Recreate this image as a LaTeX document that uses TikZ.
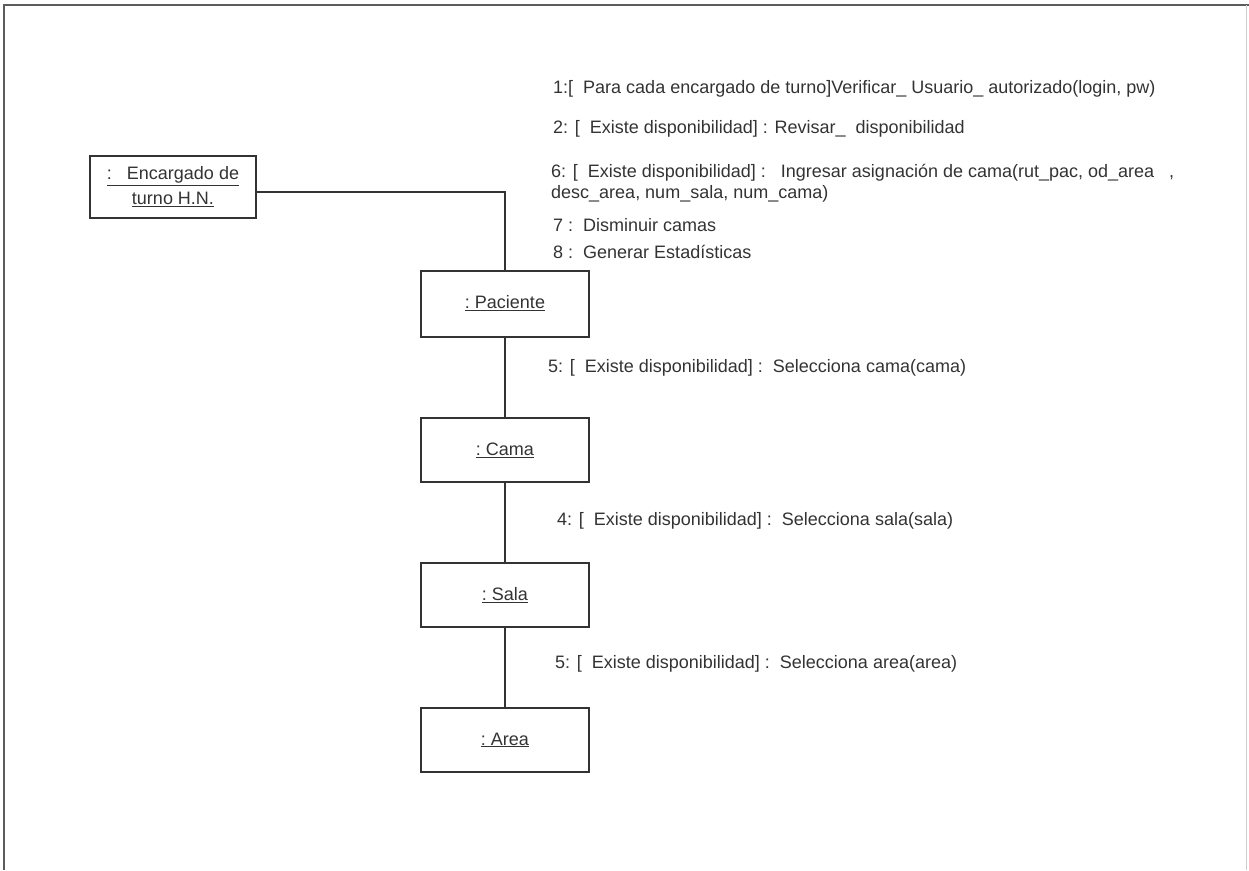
\documentclass[tikz,border=0pt]{standalone}
\usepackage{fontspec}
\setmainfont{Liberation Sans}
\definecolor{ink}{HTML}{333333}
\begin{document}
\begin{tikzpicture}[x=1pt,y=-1pt,
  obj/.style={draw=ink,line width=2pt,minimum width=168pt,minimum height=66pt,inner sep=0pt,align=center,font=\fontsize{18}{22}\selectfont,text=ink},
  msg/.style={anchor=base west,inner sep=0pt,font=\fontsize{18}{21}\selectfont,text=ink},
  link/.style={draw=ink,line width=2pt}]
\useasboundingbox (0,0) rectangle (1249,870);
% page frame
\draw[ink!80,line width=1.6pt] (4,870) -- (4,5) -- (1249,5);
\draw[black!20,line width=0.8pt] (1246,5) -- (1246,870);

% objects
\node[obj,minimum width=166pt,minimum height=62pt] (enc) at (173,187) {\underline{:\ \ \ Encargado de}\\[3pt]\underline{turno H.N.}};
\node[obj] (pac) at (505,303.5) {\underline{:\ Paciente}};
\node[obj,minimum height=64pt] (cam) at (505,450) {\underline{:\ Cama}};
\node[obj,minimum height=64pt] (sal) at (505,595) {\underline{:\ Sala}};
\node[obj,minimum height=64pt] (are) at (505,740) {\underline{:\ Area}};

% links
\coordinate (bend) at (505,192);
\draw[link] (enc.east |- bend) -- (bend) -- (pac.north);
\draw[link] (pac) -- (cam);
\draw[link] (cam) -- (sal);
\draw[link] (sal) -- (are);

% messages
\node[msg] (m1) at (553,93) {1:[\ \ Para cada encargado de turno]Verificar\_ Usuario\_ autorizado(login, pw)};
\node[msg] (m2) at (553,133) {2: [\ \ Existe disponibilidad] : Revisar\_\ \ disponibilidad};
\node[msg] (m6) at (551,177) {6: [\ \ Existe disponibilidad] :\ \ \ Ingresar asignación de cama(rut\_pac, od\_area\ \ \ ,};
\node[msg] (m6b) at (551,198) {desc\_area, num\_sala, num\_cama)};
\node[msg] (m7) at (553,231) {7 :\ \ Disminuir camas};
\node[msg] (m8) at (553,258) {8 :\ \ Generar Estadísticas};
\node[msg] (m5a) at (548,372) {5: [\ \ Existe disponibilidad] :\ \ Selecciona cama(cama)};
\node[msg] (m4) at (557,525) {4: [\ \ Existe disponibilidad] :\ \ Selecciona sala(sala)};
\node[msg] (m5b) at (555,668) {5: [\ \ Existe disponibilidad] :\ \ Selecciona area(area)};
\end{tikzpicture}
\end{document}
